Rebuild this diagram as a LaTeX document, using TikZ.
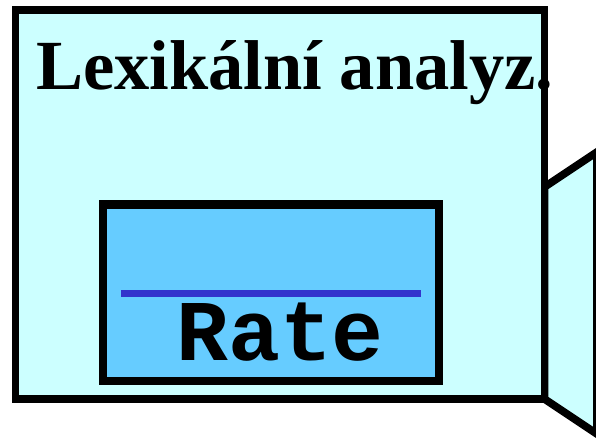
\documentclass[tikz,border=0pt]{standalone}
\usepackage{fontspec}
\setmainfont{Liberation Serif}
\setmonofont{Liberation Mono}
\usetikzlibrary{positioning}
\definecolor{paleaqua}{HTML}{CCFFFF}
\definecolor{skyfill}{HTML}{66CCFF}
\definecolor{barblue}{HTML}{3333CC}

\begin{document}
\begin{tikzpicture}[
  x=1pt, y=-1pt,
  frame/.style={rectangle, draw=black, line width=7.7pt, fill=paleaqua,
                minimum width=529pt, minimum height=389pt, inner sep=0pt},
  flap/.style={draw=black, line width=7.7pt, fill=paleaqua},
  tokenbox/.style={rectangle, draw=black, line width=8.2pt, fill=skyfill,
                   minimum width=336pt, minimum height=176.5pt, inner sep=0pt},
  bar/.style={draw=barblue, line width=6.7pt},
  heading/.style={font=\fontsize{70.5}{72}\selectfont\bfseries, inner sep=0pt, anchor=base west},
  tokentext/.style={font=\fontsize{86.5}{88}\selectfont\ttfamily\bfseries, inner sep=0pt, anchor=base west},
]
\useasboundingbox (0,0) rectangle (596,438);
% side flap behind the frame
\draw[flap] (544.5,187) -- (597,152) -- (597,434) -- (544.5,399) -- cycle;
% main frame
\node[frame] (lexer) at (280,204.5) {};
\node[heading] (title) at (36,89.3) {Lexikální analyz.};
% token box
\node[tokenbox] (token) at (271,292.75) {};
\draw[bar] (121,293.3) -- (421,293.3);
\node[tokentext] (rate) at (176,360.7) {Rate};
\end{tikzpicture}
\end{document}
